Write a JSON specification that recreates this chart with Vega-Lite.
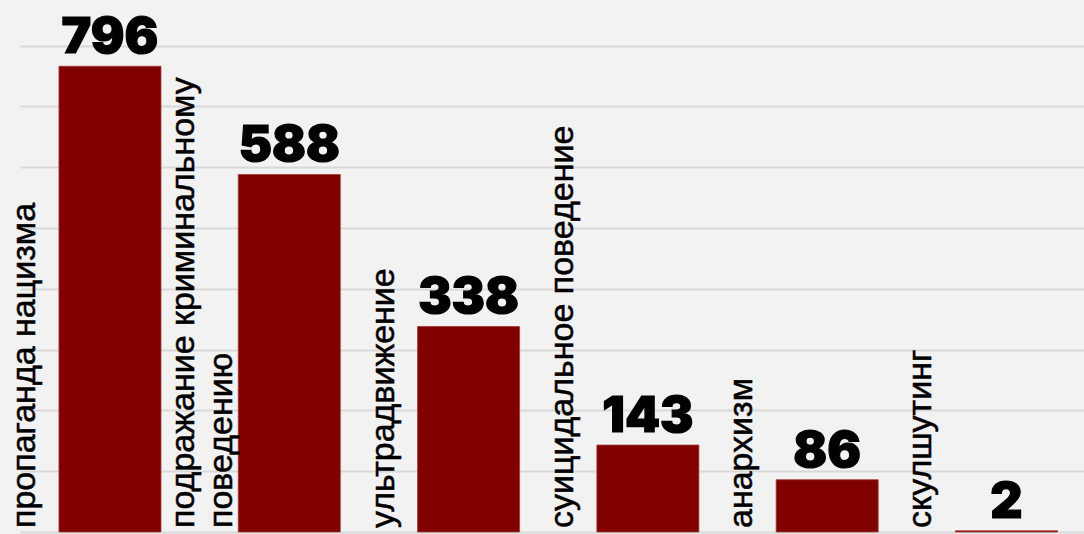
{
  "$schema": "https://vega.github.io/schema/vega-lite/v6.json",
  "width": 1064,
  "height": 532,
  "autosize": {"type": "none"},
  "padding": {"left": 20, "top": 0, "right": 0, "bottom": 2},
  "background": "#f2f2f2",
  "config": {"view": {"stroke": null, "fill": "#f2f2f2"}},
  "data": {
    "values": [
      {"category": "пропаганда нацизма", "value": 796, "bar": 766},
      {"category": "подражание криминальному\nповедению", "value": 588, "bar": 588},
      {"category": "ультрадвижение", "value": 338, "bar": 338},
      {"category": "суицидальное поведение", "value": 143, "bar": 143},
      {"category": "анархизм", "value": 86, "bar": 86},
      {"category": "скулшутинг", "value": 2, "bar": 2}
    ]
  },
  "encoding": {
    "x": {
      "field": "category",
      "type": "nominal",
      "sort": null,
      "scale": {"paddingInner": 0.431, "paddingOuter": 0.1826, "align": 0.595},
      "axis": null
    }
  },
  "layer": [
    {
      "mark": {"type": "bar", "color": "#800000", "stroke": "#a13a3a", "strokeWidth": 0.8},
      "encoding": {
        "y": {
          "field": "bar",
          "type": "quantitative",
          "scale": {"domain": [0, 875], "nice": false, "zero": true},
          "axis": {
            "values": [0, 100, 200, 300, 400, 500, 600, 700, 800],
            "grid": true,
            "gridColor": "#d9d9d9",
            "gridWidth": 2,
            "labels": false,
            "ticks": false,
            "domain": false,
            "title": null
          }
        }
      }
    },
    {
      "mark": {
        "type": "text",
        "font": "Inter",
        "fontWeight": 900,
        "fontSize": 50,
        "baseline": "alphabetic",
        "align": "center",
        "dy": -13,
        "color": "#000000",
        "stroke": "#000000",
        "strokeWidth": 1.2
      },
      "encoding": {
        "y": {"field": "bar", "type": "quantitative"},
        "text": {"field": "value", "type": "quantitative"}
      }
    },
    {
      "transform": [{"filter": "indexof(datum.category, '\\n') < 0"}],
      "mark": {
        "type": "text",
        "font": "Liberation Sans",
        "fontSize": 34,
        "angle": 270,
        "align": "left",
        "baseline": "middle",
        "xOffset": -85,
        "yOffset": -4,
        "color": "#000000",
        "stroke": "#000000",
        "strokeWidth": 0.5
      },
      "encoding": {
        "y": {"datum": 0, "type": "quantitative"},
        "text": {"field": "category", "type": "nominal"}
      }
    },
    {
      "transform": [{"filter": "indexof(datum.category, '\\n') >= 0"}],
      "mark": {
        "type": "text",
        "font": "Liberation Sans",
        "fontSize": 34,
        "angle": 270,
        "align": "left",
        "baseline": "middle",
        "lineBreak": "\n",
        "lineHeight": 38,
        "xOffset": -105,
        "yOffset": -4,
        "color": "#000000",
        "stroke": "#000000",
        "strokeWidth": 0.5
      },
      "encoding": {
        "y": {"datum": 0, "type": "quantitative"},
        "text": {"field": "category", "type": "nominal"}
      }
    }
  ]
}
